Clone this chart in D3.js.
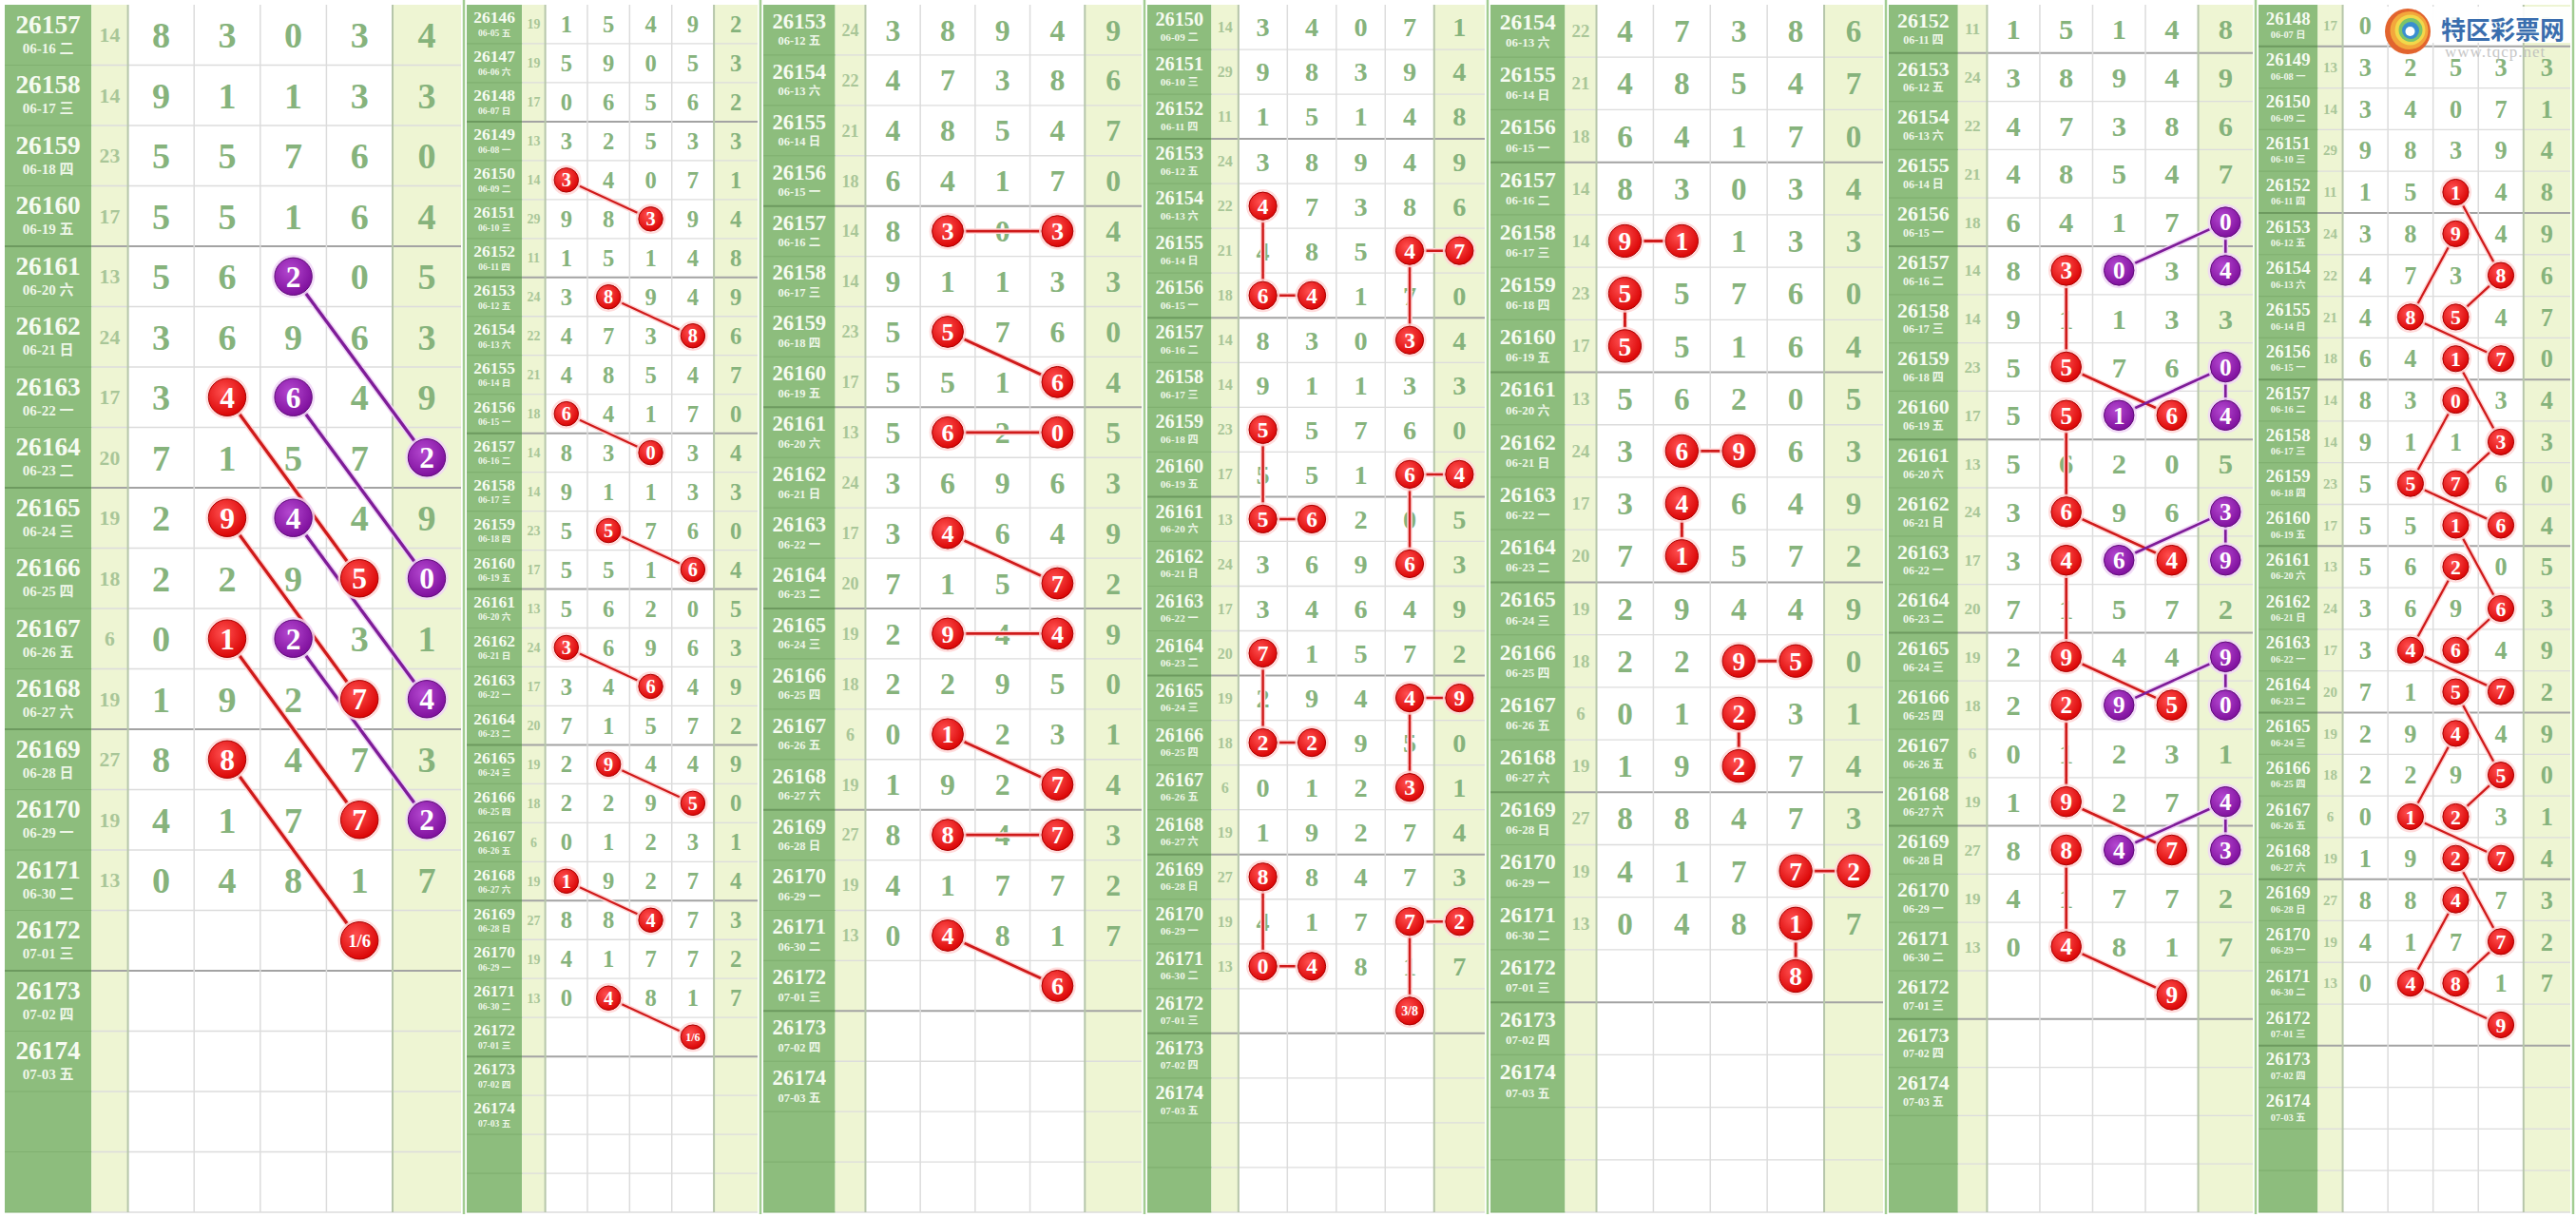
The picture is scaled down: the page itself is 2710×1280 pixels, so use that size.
<!DOCTYPE html>
<html>
<head>
<meta charset="utf-8">
<script src="https://cdn.jsdelivr.net/npm/d3@7"></script>
<style>
  body { margin: 0; background: #fff; }
  svg { display: block; }
</style>
</head>
<body>
<div id="chart"></div>
<script>
// draw history: issue, date, sum of first four, five digits
const issues = [26146, 26147, 26148, 26149, 26150, 26151, 26152, 26153, 26154, 26155,
    26156, 26157, 26158, 26159, 26160, 26161, 26162, 26163, 26164, 26165,
    26166, 26167, 26168, 26169, 26170, 26171, 26172, 26173, 26174];
const dates = ['06-05 五', '06-06 六', '06-07 日', '06-08 一', '06-09 二', '06-10 三', '06-11 四',
    '06-12 五', '06-13 六', '06-14 日', '06-15 一', '06-16 二', '06-17 三', '06-18 四', '06-19 五',
    '06-20 六', '06-21 日', '06-22 一', '06-23 二', '06-24 三', '06-25 四', '06-26 五', '06-27 六',
    '06-28 日', '06-29 一', '06-30 二', '07-01 三', '07-02 四', '07-03 五'];
const sums = [19, 19, 17, 13, 14, 29, 11, 24, 22, 21, 18, 14, 14, 23, 17, 13, 24, 17, 20, 19, 18, 6, 19, 27, 19, 13];
const draws = [
    [1, 5, 4, 9, 2], [5, 9, 0, 5, 3], [0, 6, 5, 6, 2], [3, 2, 5, 3, 3], [3, 4, 0, 7, 1],
    [9, 8, 3, 9, 4], [1, 5, 1, 4, 8], [3, 8, 9, 4, 9], [4, 7, 3, 8, 6], [4, 8, 5, 4, 7],
    [6, 4, 1, 7, 0], [8, 3, 0, 3, 4], [9, 1, 1, 3, 3], [5, 5, 7, 6, 0], [5, 5, 1, 6, 4],
    [5, 6, 2, 0, 5], [3, 6, 9, 6, 3], [3, 4, 6, 4, 9], [7, 1, 5, 7, 2], [2, 9, 4, 4, 9],
    [2, 2, 9, 5, 0], [0, 1, 2, 3, 1], [1, 9, 2, 7, 4], [8, 8, 4, 7, 3], [4, 1, 7, 7, 2],
    [0, 4, 8, 1, 7]
];

// first issue shown in each of the seven strips
const panelStarts = [26157, 26146, 26153, 26150, 26154, 26152, 26148];

// highlighted chains per strip: colour, then [issue, column, label for predictions]
const panelChains = [
    [
        ['p', [26161, 2], [26164, 4]], ['p', [26163, 2], [26166, 4]], ['r', [26163, 1], [26166, 3]],
        ['p', [26165, 2], [26168, 4]], ['r', [26165, 1], [26168, 3]], ['p', [26167, 2], [26170, 4]],
        ['r', [26167, 1], [26170, 3]], ['r', [26169, 1], [26172, 3, '1/6']]
    ],
    [
        ['r', [26150, 0], [26151, 2]], ['r', [26153, 1], [26154, 3]], ['r', [26156, 0], [26157, 2]],
        ['r', [26159, 1], [26160, 3]], ['r', [26162, 0], [26163, 2]], ['r', [26165, 1], [26166, 3]],
        ['r', [26168, 0], [26169, 2]], ['r', [26171, 1], [26172, 3, '1/6']]
    ],
    [
        ['r', [26157, 1], [26157, 3]], ['r', [26159, 1], [26160, 3]], ['r', [26161, 1], [26161, 3]],
        ['r', [26163, 1], [26164, 3]], ['r', [26165, 1], [26165, 3]], ['r', [26167, 1], [26168, 3]],
        ['r', [26169, 1], [26169, 3]], ['r', [26171, 1], [26172, 3, '6']]
    ],
    [
        ['r', [26154, 0], [26156, 0], [26156, 1]], ['r', [26155, 4], [26155, 3], [26157, 3]],
        ['r', [26159, 0], [26161, 0], [26161, 1]], ['r', [26160, 4], [26160, 3], [26162, 3]],
        ['r', [26164, 0], [26166, 0], [26166, 1]], ['r', [26165, 4], [26165, 3], [26167, 3]],
        ['r', [26169, 0], [26171, 0], [26171, 1]], ['r', [26170, 4], [26170, 3], [26172, 3, '3/8']]
    ],
    [
        ['r', [26158, 0], [26158, 1]], ['r', [26159, 0], [26160, 0]],
        ['r', [26162, 1], [26162, 2]], ['r', [26163, 1], [26164, 1]],
        ['r', [26166, 2], [26166, 3]], ['r', [26167, 2], [26168, 2]],
        ['r', [26170, 3], [26170, 4]], ['r', [26171, 3], [26172, 3, '8']]
    ],
    [
        ['r', [26157, 1], [26159, 1], [26160, 3]], ['r', [26160, 1], [26162, 1], [26163, 3]],
        ['r', [26163, 1], [26165, 1], [26166, 3]], ['r', [26166, 1], [26168, 1], [26169, 3]],
        ['r', [26169, 1], [26171, 1], [26172, 3, '9']],
        ['p', [26157, 2], [26156, 4], [26157, 4]], ['p', [26160, 2], [26159, 4], [26160, 4]],
        ['p', [26163, 2], [26162, 4], [26163, 4]], ['p', [26166, 2], [26165, 4], [26166, 4]],
        ['p', [26169, 2], [26168, 4], [26169, 4]]
    ],
    [
        ['r', [26152, 2], [26154, 3], [26155, 2]], ['r', [26153, 2], [26155, 1], [26156, 3]],
        ['r', [26156, 2], [26158, 3], [26159, 2]], ['r', [26157, 2], [26159, 1], [26160, 3]],
        ['r', [26160, 2], [26162, 3], [26163, 2]], ['r', [26161, 2], [26163, 1], [26164, 3]],
        ['r', [26164, 2], [26166, 3], [26167, 2]], ['r', [26165, 2], [26167, 1], [26168, 3]],
        ['r', [26168, 2], [26170, 3], [26171, 2]], ['r', [26169, 2], [26171, 1], [26172, 3, '9']]
    ]
];

const W = 2710, H = 1280, TOP = 5, BOTTOM = 1275;
const panelEdges = [5, 488, 800, 1204, 1565, 1984, 2373, 2707];
const colStops = [0, 0.19, 0.27, 0.415, 0.56, 0.705, 0.85, 1];
const serif = '"Liberation Serif", "DejaVu Serif", serif';
const labelFont = '"Liberation Serif", "Noto Sans CJK SC", serif';
const colors = {
    label: '#8dbd7d', pale: '#eef5d3', grid: '#dcdcdc', sep: '#b6c6aa',
    digit: '#86b37c', sum: '#a9c698',
    r: {fill: 'url(#gRed)', stroke: '#a80000', line: '#cf1a1a', halo: '#ffd6d6'},
    p: {fill: 'url(#gPur)', stroke: '#5e0a78', line: '#7e1c98', halo: '#f0d6f6'}
};

const byIssue = new Map(issues.map((d, i) => [d, {date: dates[i], sum: sums[i], nums: draws[i]}]));

const svg = d3.select('#chart').append('svg')
    .attr('width', W)
    .attr('height', H);

const defs = svg.append('defs');
[['gRed', '#ff5050', '#d80000'], ['gPur', '#b448d0', '#7c0c9a']].forEach(([id, c0, c1]) => {
    const gr = defs.append('radialGradient').attr('id', id)
        .attr('cx', '40%').attr('cy', '35%').attr('r', '70%');
    gr.append('stop').attr('offset', '0%').attr('stop-color', c0);
    gr.append('stop').attr('offset', '100%').attr('stop-color', c1);
});

panelStarts.forEach((start, pi) => {
    const rows = issues.filter(d => d >= start).concat(['x1', 'x2']);
    const left = panelEdges[pi] + (pi ? 3 : 0),
        right = panelEdges[pi + 1] - 3;
    const x = d3.scaleLinear().domain([0, 1]).range([left, right]);
    const y = d3.scaleBand().domain(rows).range([TOP, BOTTOM]);
    const rh = y.bandwidth();
    const labW = x(colStops[1]) - x(colStops[0]);
    const colW = x(colStops[3]) - x(colStops[2]);
    const cx = c => x((colStops[c + 2] + colStops[c + 3]) / 2);
    const cy = d => y(d) + rh / 2;
    const r = Math.min(rh, colW) * 0.31;

    const g = svg.append('g').attr('class', 'panel');

    // column backgrounds
    g.append('rect').attr('x', x(0)).attr('y', TOP).attr('width', labW).attr('height', BOTTOM - TOP)
        .attr('fill', colors.label);
    g.append('rect').attr('x', x(colStops[1])).attr('y', TOP)
        .attr('width', x(colStops[2]) - x(colStops[1])).attr('height', BOTTOM - TOP)
        .attr('fill', colors.pale);
    g.append('rect').attr('x', x(colStops[6])).attr('y', TOP)
        .attr('width', x(1) - x(colStops[6])).attr('height', BOTTOM - TOP)
        .attr('fill', colors.pale);

    // row lines
    const isGroupEnd = d => typeof d === 'number' && (d - 26148) % 4 === 0;
    g.append('g').selectAll('line')
        .data(rows)
        .join('line')
        .attr('x1', x(colStops[1])).attr('x2', x(1))
        .attr('y1', d => y(d) + rh).attr('y2', d => y(d) + rh)
        .attr('stroke', d => isGroupEnd(d) ? '#a3a3a3' : colors.grid)
        .attr('stroke-width', d => isGroupEnd(d) ? 2 : 1.3);
    g.append('g').selectAll('line')
        .data(rows)
        .join('line')
        .attr('x1', x(0)).attr('x2', x(colStops[1]))
        .attr('y1', d => y(d) + rh).attr('y2', d => y(d) + rh)
        .attr('stroke', d => isGroupEnd(d) ? '#6d9a5f' : '#80b070')
        .attr('stroke-width', d => isGroupEnd(d) ? 2 : 1.2);

    // column lines
    g.append('g').selectAll('line')
        .data([3, 4, 5])
        .join('line')
        .attr('x1', d => x(colStops[d])).attr('x2', d => x(colStops[d]))
        .attr('y1', TOP).attr('y2', BOTTOM)
        .attr('stroke', colors.grid).attr('stroke-width', 1.5);
    g.append('g').selectAll('line')
        .data([2, 6])
        .join('line')
        .attr('x1', d => x(colStops[d])).attr('x2', d => x(colStops[d]))
        .attr('y1', TOP).attr('y2', BOTTOM)
        .attr('stroke', colors.sep).attr('stroke-width', 2);

    // issue labels
    const labels = g.append('g').selectAll('g')
        .data(rows.filter(d => typeof d === 'number'))
        .join('g');
    labels.append('text')
        .attr('x', x(colStops[1] / 2))
        .attr('y', d => y(d) + rh * 0.47)
        .attr('text-anchor', 'middle')
        .attr('font-family', serif)
        .attr('font-weight', 'bold')
        .attr('font-size', labW * 0.3)
        .attr('fill', '#f6fbf1')
        .text(d => d);
    labels.append('text')
        .attr('x', x(colStops[1] / 2))
        .attr('y', d => y(d) + rh * 0.8)
        .attr('text-anchor', 'middle')
        .attr('font-family', labelFont)
        .attr('font-weight', 'bold')
        .attr('font-size', labW * 0.165)
        .attr('fill', '#eef6e8')
        .text(d => byIssue.get(d).date);

    // sums and digits
    const drawn = rows.filter(d => byIssue.has(d) && byIssue.get(d).nums);
    g.append('g').selectAll('text')
        .data(drawn)
        .join('text')
        .attr('x', x((colStops[1] + colStops[2]) / 2))
        .attr('y', cy)
        .attr('dy', '0.35em')
        .attr('text-anchor', 'middle')
        .attr('font-family', serif)
        .attr('font-weight', 'bold')
        .attr('font-size', Math.min(rh * 0.34, labW * 0.26))
        .attr('fill', colors.sum)
        .text(d => byIssue.get(d).sum);

    const cells = drawn.flatMap(d => byIssue.get(d).nums.map((v, c) => ({issue: d, c, v})));
    g.append('g').selectAll('text')
        .data(cells)
        .join('text')
        .attr('x', d => cx(d.c))
        .attr('y', d => cy(d.issue))
        .attr('dy', '0.35em')
        .attr('text-anchor', 'middle')
        .attr('font-family', serif)
        .attr('font-weight', 'bold')
        .attr('font-size', Math.min(rh * 0.6, colW * 0.58))
        .attr('fill', colors.digit)
        .text(d => d.v);

    // chains
    const chains = panelChains[pi].map(([col, ...pts]) => ({
        col,
        pts: pts.map(([issue, c, lab]) => ({
            issue, c, col,
            label: lab !== undefined ? lab : String(byIssue.get(issue).nums[c])
        }))
    }));
    const line = d3.line().x(d => cx(d.c)).y(d => cy(d.issue));
    const lw = Math.max(2.2, r * 0.17);

    const lines = g.append('g');
    lines.selectAll('path.halo')
        .data(chains)
        .join('path')
        .attr('class', 'halo')
        .attr('d', d => line(d.pts))
        .attr('fill', 'none')
        .attr('stroke', d => colors[d.col].halo)
        .attr('stroke-width', lw + 3)
        .attr('stroke-linejoin', 'round');
    lines.selectAll('path.link')
        .data(chains)
        .join('path')
        .attr('class', 'link')
        .attr('d', d => line(d.pts))
        .attr('fill', 'none')
        .attr('stroke', d => colors[d.col].line)
        .attr('stroke-width', lw)
        .attr('stroke-linejoin', 'round');

    const balls = g.append('g').selectAll('g')
        .data(chains.flatMap(d => d.pts))
        .join('g')
        .attr('transform', d => `translate(${cx(d.c)},${cy(d.issue)})`);
    balls.append('circle')
        .attr('r', r + 3)
        .attr('fill', d => colors[d.col].halo)
        .attr('opacity', 0.85);
    balls.append('circle')
        .attr('r', r)
        .attr('fill', d => colors[d.col].fill)
        .attr('stroke', d => colors[d.col].stroke)
        .attr('stroke-width', 1);
    balls.append('text')
        .attr('dy', '0.35em')
        .attr('text-anchor', 'middle')
        .attr('font-family', serif)
        .attr('font-weight', 'bold')
        .attr('font-size', d => d.label.length > 1 ? r * 0.95 : r * 1.6)
        .attr('fill', '#fff')
        .text(d => d.label);
});

// strip borders
svg.append('g').selectAll('line')
    .data(panelEdges.slice(1))
    .join('line')
    .attr('x1', d => d).attr('x2', d => d)
    .attr('y1', 0).attr('y2', BOTTOM + 2)
    .attr('stroke', '#a2cd92')
    .attr('stroke-width', 2.5);

// site logo in the last strip
const logo = svg.append('g');
logo.append('rect')
    .attr('x', 2508).attr('y', 7).attr('width', 196).attr('height', 38)
    .attr('fill', '#fff').attr('opacity', 0.92);
const icon = logo.append('g').attr('transform', 'translate(2533,33)');
[[24, '#e2642e', 0, 0], [20, '#f3a73c', 1.5, -1], [16, '#f2d84a', 2.5, -1.5],
    [12.5, '#7cc46a', 3, -1.5], [9, '#3a8fd0', 3, -1], [5, '#ffffff', 2.5, 0]].forEach(([rr, c, dx, dy]) => {
    icon.append('circle').attr('cx', dx).attr('cy', dy).attr('r', rr).attr('fill', c);
});
logo.append('text')
    .attr('x', 2568).attr('y', 41)
    .attr('font-family', '"Noto Sans CJK SC", sans-serif')
    .attr('font-weight', 'bold')
    .attr('font-size', 26)
    .attr('fill', '#3a6eae')
    .text('特区彩票网');
logo.append('text')
    .attr('x', 2572).attr('y', 60)
    .attr('font-family', serif)
    .attr('font-size', 17)
    .attr('fill', '#b9b9b9')
    .attr('opacity', 0.8)
    .attr('letter-spacing', 1)
    .text('www.tqcp.net');
</script>
</body>
</html>
